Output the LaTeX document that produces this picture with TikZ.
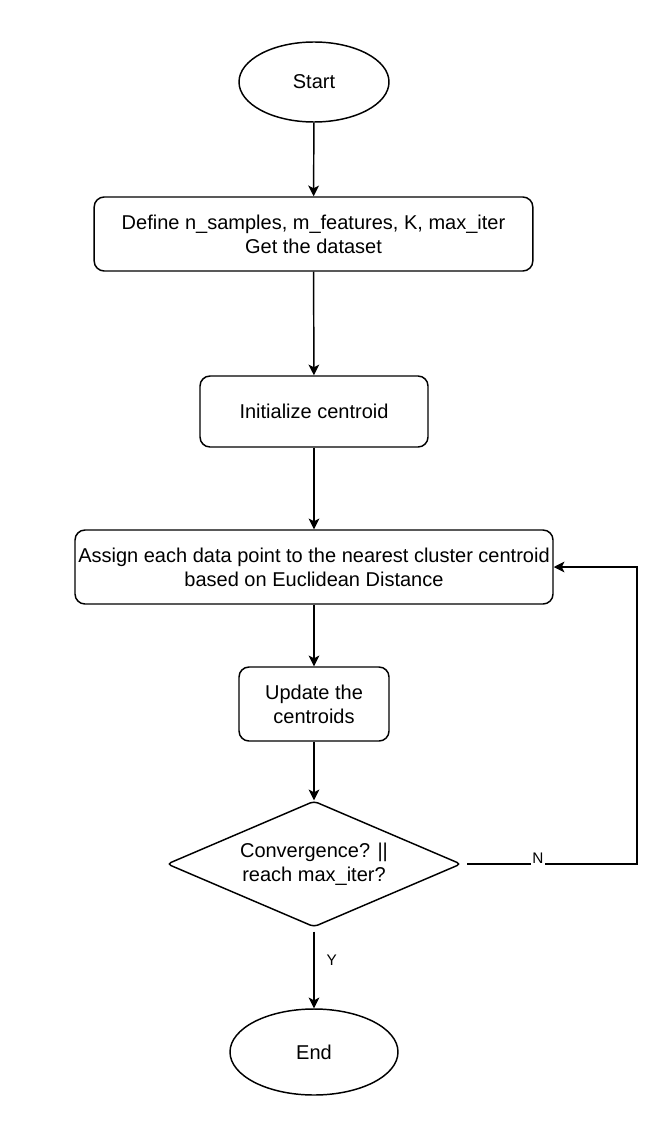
\documentclass[tikz,border=0pt]{standalone}
\usepackage{fontspec}
\setmainfont{Liberation Sans}
\usetikzlibrary{shapes.geometric,arrows.meta}

\begin{document}
\begin{tikzpicture}[x=0.75pt,y=-0.75pt,line width=1.1pt,
  >={Stealth[length=8pt,width=8pt,inset=2pt]},
  every node/.style={font=\fontsize{15}{18}\selectfont,align=center},
  term/.style={draw,ellipse,inner sep=0pt},
  proc/.style={draw,rounded corners=7.5pt,inner sep=0pt},
  test/.style={draw,diamond,rounded corners=3pt,inner sep=0pt,aspect=2.33},
  lbl/.style={font=\fontsize{11.5}{13}\selectfont,inner sep=1pt}]

\useasboundingbox (0,0) rectangle (663,1141);

\node[term,minimum width=112.5pt,minimum height=60pt] (start) at (314,82) {Start};
\node[proc,minimum width=329pt,minimum height=55.5pt] (def) at (313.5,234) {Define n\_samples, m\_features, K, max\_iter\\Get the dataset};
\node[proc,minimum width=171pt,minimum height=53.25pt] (init) at (314,411.5) {Initialize centroid};
\node[proc,minimum width=358.5pt,minimum height=55.5pt] (assign) at (314,567) {Assign each data point to the nearest cluster centroid\\based on Euclidean Distance};
\node[proc,minimum width=112.5pt,minimum height=55.5pt] (update) at (314,704) {Update the\\centroids};
\node[test,minimum width=220.5pt,minimum height=94.5pt] (conv) at (314,864) {Convergence? ||\\reach max\_iter?};
\node[term,minimum width=126pt,minimum height=64.5pt] (end) at (314,1052) {End};

\coordinate (loopb) at (637,864);
\coordinate (loopt) at (637,567);

\draw[->] (start) -- (def);
\draw[->] (def) -- (init);
\draw[->] (init) -- (assign);
\draw[->] (assign) -- (update);
\draw[->] (update) -- (conv);
\draw[->,shorten <=3pt] (conv) -- (end) node[lbl,pos=0.4,right=8pt] {Y};
\draw[->,shorten <=4pt] (conv.east) -- (loopb) -- (loopt) -- (assign.east);
\node[lbl,fill=white] (no) at (538,858) {N};

\end{tikzpicture}
\end{document}
